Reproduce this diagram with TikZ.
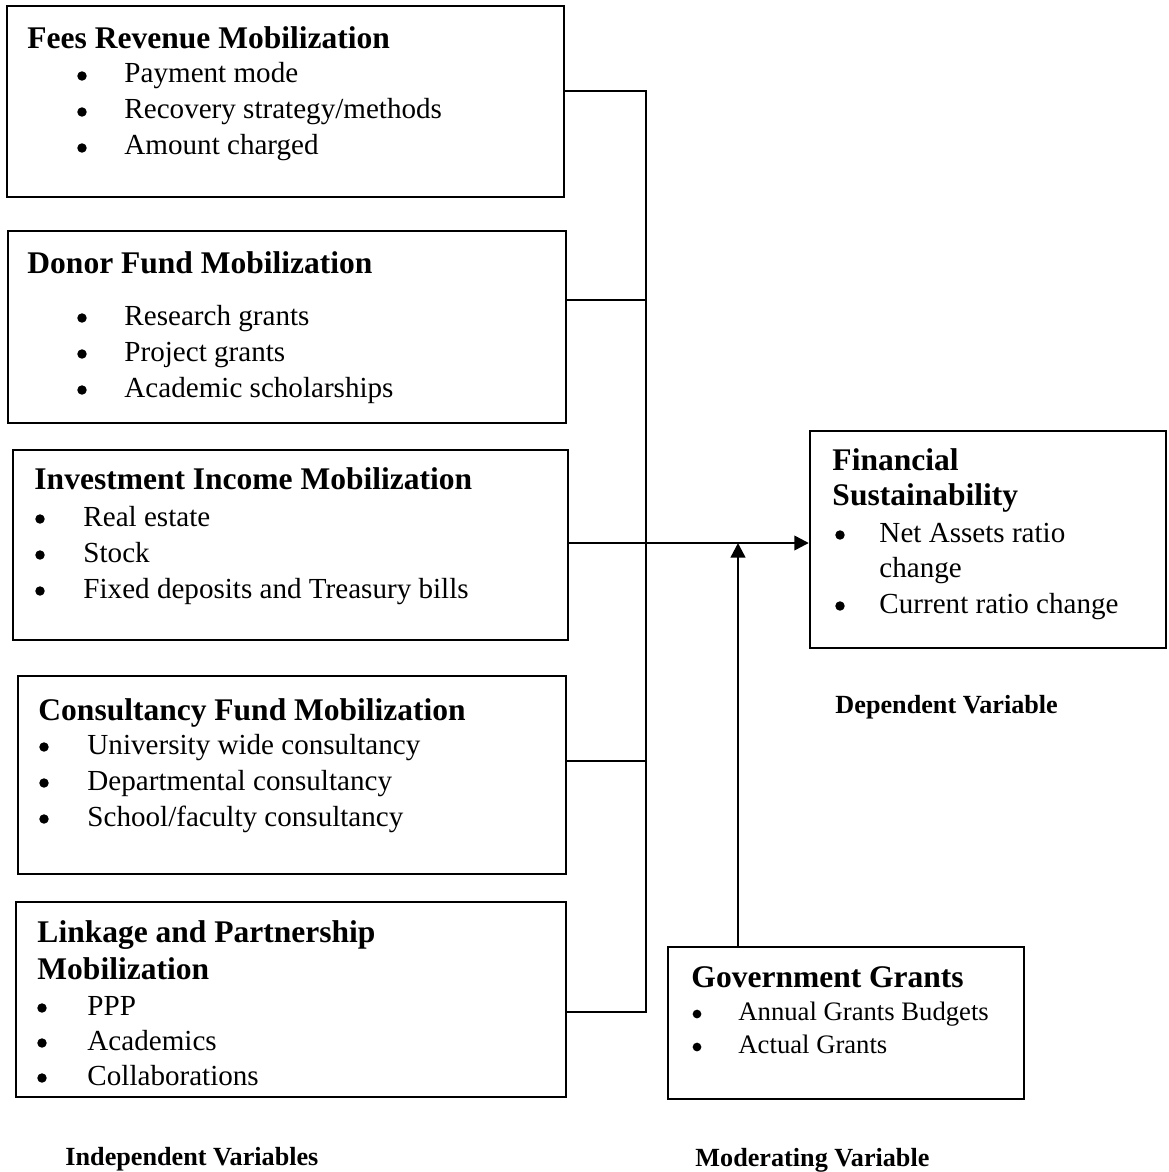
\documentclass[tikz,border=0pt]{standalone}
\usepackage{fontspec}
\setmainfont{Liberation Serif}
\usetikzlibrary{fit,arrows.meta}

\begin{document}
\begin{tikzpicture}[x=0.4125pt, y=-0.4125pt,
    box/.style={draw, line width=1pt, inner sep=0pt},
    head/.style={anchor=base west, inner sep=0pt, font=\fontsize{13}{15}\selectfont\bfseries},
    item/.style={anchor=base west, inner sep=0pt, font=\fontsize{12}{14}\selectfont},
    dot/.style={circle, fill, inner sep=0pt, minimum size=3.9pt},
    small/.style={anchor=base west, inner sep=0pt, font=\fontsize{11}{13}\selectfont},
    tag/.style={anchor=base west, inner sep=0pt, font=\fontsize{10.8}{13}\selectfont\bfseries},
    link/.style={line width=0.5pt},
    flow/.style={line width=1pt, -{Triangle[length=6pt,width=6pt]}}]

    \useasboundingbox (0,0) rectangle (1168,1172);

    % independent variables
    \node[box, fit={(7,6) (564,197)}] (fees) {};
    \node[head] (feesT) at (27,49) {Fees Revenue Mobilization};
    \foreach \txt [count=\i] in {Payment mode,Recovery strategy/methods,Amount charged}
      { \node[dot] (feesB\i) at (82,40+36*\i) {};
        \node[item] (feesI\i) at (124,47+36*\i) {\txt}; }

    \node[box, fit={(8,231) (566,423)}] (donor) {};
    \node[head] (donorT) at (27,273) {Donor Fund Mobilization};
    \foreach \txt [count=\i] in {Research grants,Project grants,Academic scholarships}
      { \node[dot] (donorB\i) at (82,282+36*\i) {};
        \node[item] (donorI\i) at (124,289+36*\i) {\txt}; }

    \node[box, fit={(13,450) (568,640)}] (invest) {};
    \node[head] (investT) at (34,489) {Investment Income Mobilization};
    \foreach \txt [count=\i] in {Real estate,Stock,Fixed deposits and Treasury bills}
      { \node[dot] (investB\i) at (40,483+36*\i) {};
        \node[item] (investI\i) at (83,490+36*\i) {\txt}; }

    \node[box, fit={(18,676) (566,874)}] (consult) {};
    \node[head] (consultT) at (38,720) {Consultancy Fund Mobilization};
    \foreach \txt [count=\i] in {University wide consultancy,Departmental consultancy,School/faculty consultancy}
      { \node[dot] (consultB\i) at (44,711+36*\i) {};
        \node[item] (consultI\i) at (87,718+36*\i) {\txt}; }

    \node[box, fit={(16,902) (566,1097)}] (linkage) {};
    \node[head] (linkageT1) at (37,942) {Linkage and Partnership};
    \node[head] (linkageT2) at (37,979) {Mobilization};
    \foreach \txt [count=\i] in {PPP,Academics,Collaborations}
      { \node[dot] (linkageB\i) at (42,973+35*\i) {};
        \node[item] (linkageI\i) at (87,980+35*\i) {\txt}; }

    % dependent variable
    \node[box, fit={(810,431) (1166,648)}] (finsus) {};
    \node[head] (finsusT1) at (832,470) {Financial};
    \node[head] (finsusT2) at (832,505) {Sustainability};
    \node[dot] (finsusB1) at (840,535) {};
    \node[item] (finsusI1) at (879,542) {Net Assets ratio};
    \node[item] (finsusI1b) at (879,577) {change};
    \node[dot] (finsusB2) at (840,606) {};
    \node[item] (finsusI2) at (879,613) {Current ratio change};

    % moderating variable
    \node[box, fit={(668,947) (1024,1099)}] (govgrant) {};
    \node[head] (govgrantT) at (691,987) {Government Grants};
    \foreach \txt [count=\i] in {Annual Grants Budgets,Actual Grants}
      { \node[dot, minimum size=3.6pt] (govgrantB\i) at (697,981+33*\i) {};
        \node[small] (govgrantI\i) at (738,987+33*\i) {\txt}; }

    % captions
    \node[tag] (indep) at (65,1165) {Independent Variables};
    \node[tag] (dep) at (835,713) {Dependent Variable};
    \node[tag] (moder) at (695,1166) {Moderating Variable};

    % connectors
    \coordinate (b1) at (646,91);
    \coordinate (b2) at (646,300);
    \coordinate (b3) at (646,543);
    \coordinate (b4) at (646,761);
    \coordinate (b5) at (646,1012);
    \coordinate (m) at (738,543);

    \draw[link] (fees.east |- b1) -- (b1) -- (b5) -- (b5 -| linkage.east);
    \draw[link] (donor.east |- b2) -- (b2);
    \draw[link] (invest.east |- b3) -- (b3);
    \draw[link] (consult.east |- b4) -- (b4);
    \draw[flow] (b3) -- (b3 -| finsus.west);
    \draw[flow] (m |- govgrant.north) -- (m);
\end{tikzpicture}
\end{document}
